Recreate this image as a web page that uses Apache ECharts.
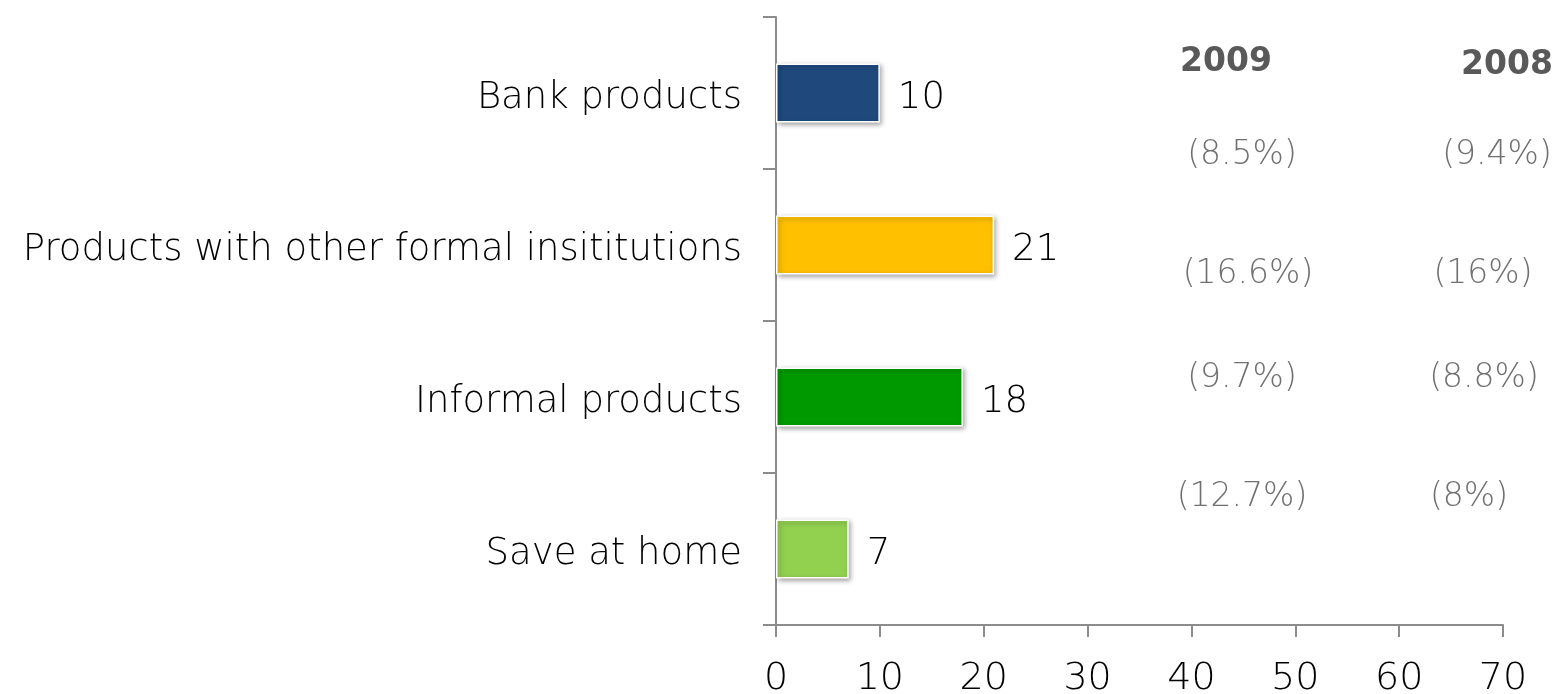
<!DOCTYPE html>
<html>
<head>
<meta charset="utf-8">
<script src="https://cdn.jsdelivr.net/npm/echarts@6/dist/echarts.min.js"></script>
<style>
  html, body { margin: 0; padding: 0; background: #fff; }
  #chart { width: 1558px; height: 694px; }
</style>
</head>
<body>
<div id="chart"></div>
<script>
// Savings channels (values plotted as bars)
const categories = ['Bank products', 'Products with other formal insititutions', 'Informal products', 'Save at home'];
const values = [10, 21, 18, 7];
const barColors = ['#1F497D', '#FFC000', '#009A00', '#92D050'];

// Side notes: shares by year
const yearHeaders = ['2009', '2008'];
const share2009 = ['(8.5%)', '(16.6%)', '(9.7%)', '(12.7%)'];
const share2008 = ['(9.4%)', '(16%)', '(8.8%)', '(8%)'];

const xTicks = [0, 10, 20, 30, 40, 50, 60, 70];

const FONT = 'DejaVu Sans';
const chart = echarts.init(document.getElementById('chart'));

// note positions in the right-hand margin
const headerPos = [[1226, 62], [1507, 65]];
const pos2009 = [[1242, 155], [1248, 274], [1242, 378], [1242, 497]];
const pos2008 = [[1497, 155], [1483, 274], [1484, 378], [1469, 497]];

const graphics = [];
yearHeaders.forEach((t, i) => graphics.push({
  type: 'text', x: headerPos[i][0], y: headerPos[i][1],
  style: { text: t, fill: '#595959', font: 'bold 33px "' + FONT + '"', align: 'center', verticalAlign: 'middle' }
}));
share2009.forEach((t, i) => graphics.push({
  type: 'text', x: pos2009[i][0], y: pos2009[i][1],
  style: { text: t, fill: '#707070', font: '200 33px "' + FONT + '"', align: 'center', verticalAlign: 'middle' }
}));
share2008.forEach((t, i) => graphics.push({
  type: 'text', x: pos2008[i][0], y: pos2008[i][1],
  style: { text: t, fill: '#707070', font: '200 33px "' + FONT + '"', align: 'center', verticalAlign: 'middle' }
}));

chart.setOption({
  animation: false,
  grid: { left: 776, right: 55, top: 17, bottom: 69, containLabel: false, outerBoundsMode: 'none' },
  xAxis: {
    type: 'value', min: 0, max: 70, interval: 10,
    axisLine: { show: true, lineStyle: { color: '#8c8c8c', width: 2 } },
    axisTick: { show: true, length: 12, lineStyle: { color: '#8c8c8c', width: 2 } },
    splitLine: { show: false },
    axisLabel: { color: '#000', fontFamily: FONT, fontWeight: 200, fontSize: 38, margin: 35,
      formatter: v => xTicks.includes(v) ? String(v) : '' }
  },
  yAxis: {
    type: 'category', data: categories, inverse: true,
    axisLine: { show: true, lineStyle: { color: '#8c8c8c', width: 2 } },
    axisTick: { show: true, length: 13, lineStyle: { color: '#8c8c8c', width: 2 } },
    axisLabel: { color: '#000', fontFamily: FONT, fontWeight: 200, fontSize: 37, margin: 34,
      verticalAlign: 'top', lineHeight: 10 }
  },
  series: [{
    type: 'bar',
    barWidth: 59,
    data: values.map((v, i) => ({
      value: v,
      itemStyle: { color: barColors[i] }
    })),
    itemStyle: {
      borderColor: '#ffffff', borderWidth: 1.5,
      shadowColor: 'rgba(0,0,0,0.35)', shadowBlur: 5, shadowOffsetX: 2, shadowOffsetY: 2
    },
    label: { show: true, position: 'right', distance: 18, color: '#000', offset: [0, 5],
      fontFamily: FONT, fontWeight: 200, fontSize: 37 }
  }],
  graphic: graphics
});
</script>
</body>
</html>
